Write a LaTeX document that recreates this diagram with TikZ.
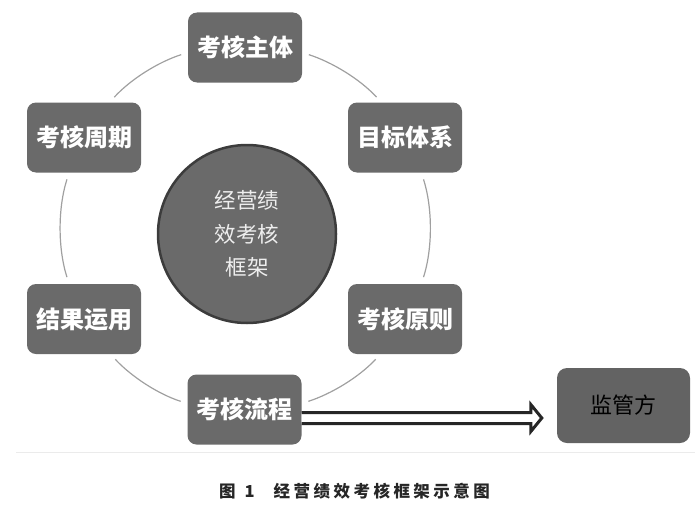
\documentclass[tikz,border=0pt]{standalone}
\usepackage{fontspec}
\usetikzlibrary{calc}
\newfontfamily\cjk{Noto Sans CJK SC}
\newfontfamily\capfont{Noto Sans CJK SC}[LetterSpace=21]
\definecolor{boxgray}{RGB}{106,106,106}
\definecolor{ringgray}{RGB}{160,160,160}
\definecolor{circedge}{RGB}{60,60,60}
\definecolor{circtext}{RGB}{238,238,238}
\tikzset{
  stagebox/.style={draw=none, fill=boxgray, rounded corners=9pt,
    minimum width=114pt, minimum height=70pt, inner sep=0pt,
    text=white, font=\cjk\bfseries\fontsize{24}{27}\selectfont},
  hubcircle/.style={circle, draw=circedge, line width=2.5pt, fill=boxgray,
    minimum size=178pt, inner sep=0pt, text=circtext, align=center,
    font=\cjk\fontsize{21.5}{33.5}\selectfont},
  partybox/.style={draw=none, fill=boxgray!105, rounded corners=10pt,
    minimum width=133pt, minimum height=75pt, inner sep=0pt,
    text=black, font=\cjk\fontsize{22}{26}\selectfont},
  ringlink/.style={draw=ringgray, line width=1.2pt, looseness=0.86,
    shorten <=7pt, shorten >=7pt},
  hollowarrow/.style={draw=black!85, fill=white, line width=3pt, miter limit=10},
  captext/.style={anchor=west, inner sep=0pt, text=black!85,
    font=\capfont\bfseries\fontsize{16.5}{19}\selectfont}
}
\begin{document}
\begin{tikzpicture}[x=1pt,y=1pt]
\useasboundingbox (0,0) rectangle (700,-511);
\draw[black!8, line width=0.8pt] (16,-452) -- (695,-452);

\node[hubcircle] (O) at (247,-234) {经营绩\\效考核\\框架};

\node[stagebox] (A) at (245,-47.5) {考核主体};
\node[stagebox] (B) at (405,-137.5) {目标体系};
\node[stagebox] (D) at (405,-319) {考核原则};
\node[stagebox] (E) at (244.5,-409.5) {考核流程};
\node[stagebox] (F) at (84,-319) {结果运用};
\node[stagebox] (G) at (84,-137.5) {考核周期};
\node[partybox] (M) at (623.5,-405.5) {监管方};

\draw[ringlink] (A.-5) to[out=-17.9, in=132.5] (B.124.8);
\draw[ringlink] (B.-65) to[out=-72.4, in=72.4] (D.65);
\draw[ringlink] (D.-125) to[out=-132.9, in=17.9] (E.6);
\draw[ringlink] (E.174) to[out=162.1, in=-47.1] (F.-53.9);
\draw[ringlink] (F.113.6) to[out=107.6, in=-107.6] (G.-113.6);
\draw[ringlink] (G.54.1) to[out=47.5, in=-162.1] (A.185);

\coordinate (as) at ([yshift=-8.5pt]E.east);
\coordinate (at) at ($(as -| M.west)+(-15,0)$);
\draw[hollowarrow] ($(as)+(0,5.5)$) -- ($(at)+(-11,5.5)$) -- ($(at)+(-11,13.5)$)
  -- (at) -- ($(at)+(-11,-13.5)$) -- ($(at)+(-11,-5.5)$) -- ($(as)+(0,-5.5)$);

\node[captext] (cap) at (219,-491) {图\hspace{9pt}1\hspace{19pt}经营绩效考核框架示意图};
\end{tikzpicture}
\end{document}
